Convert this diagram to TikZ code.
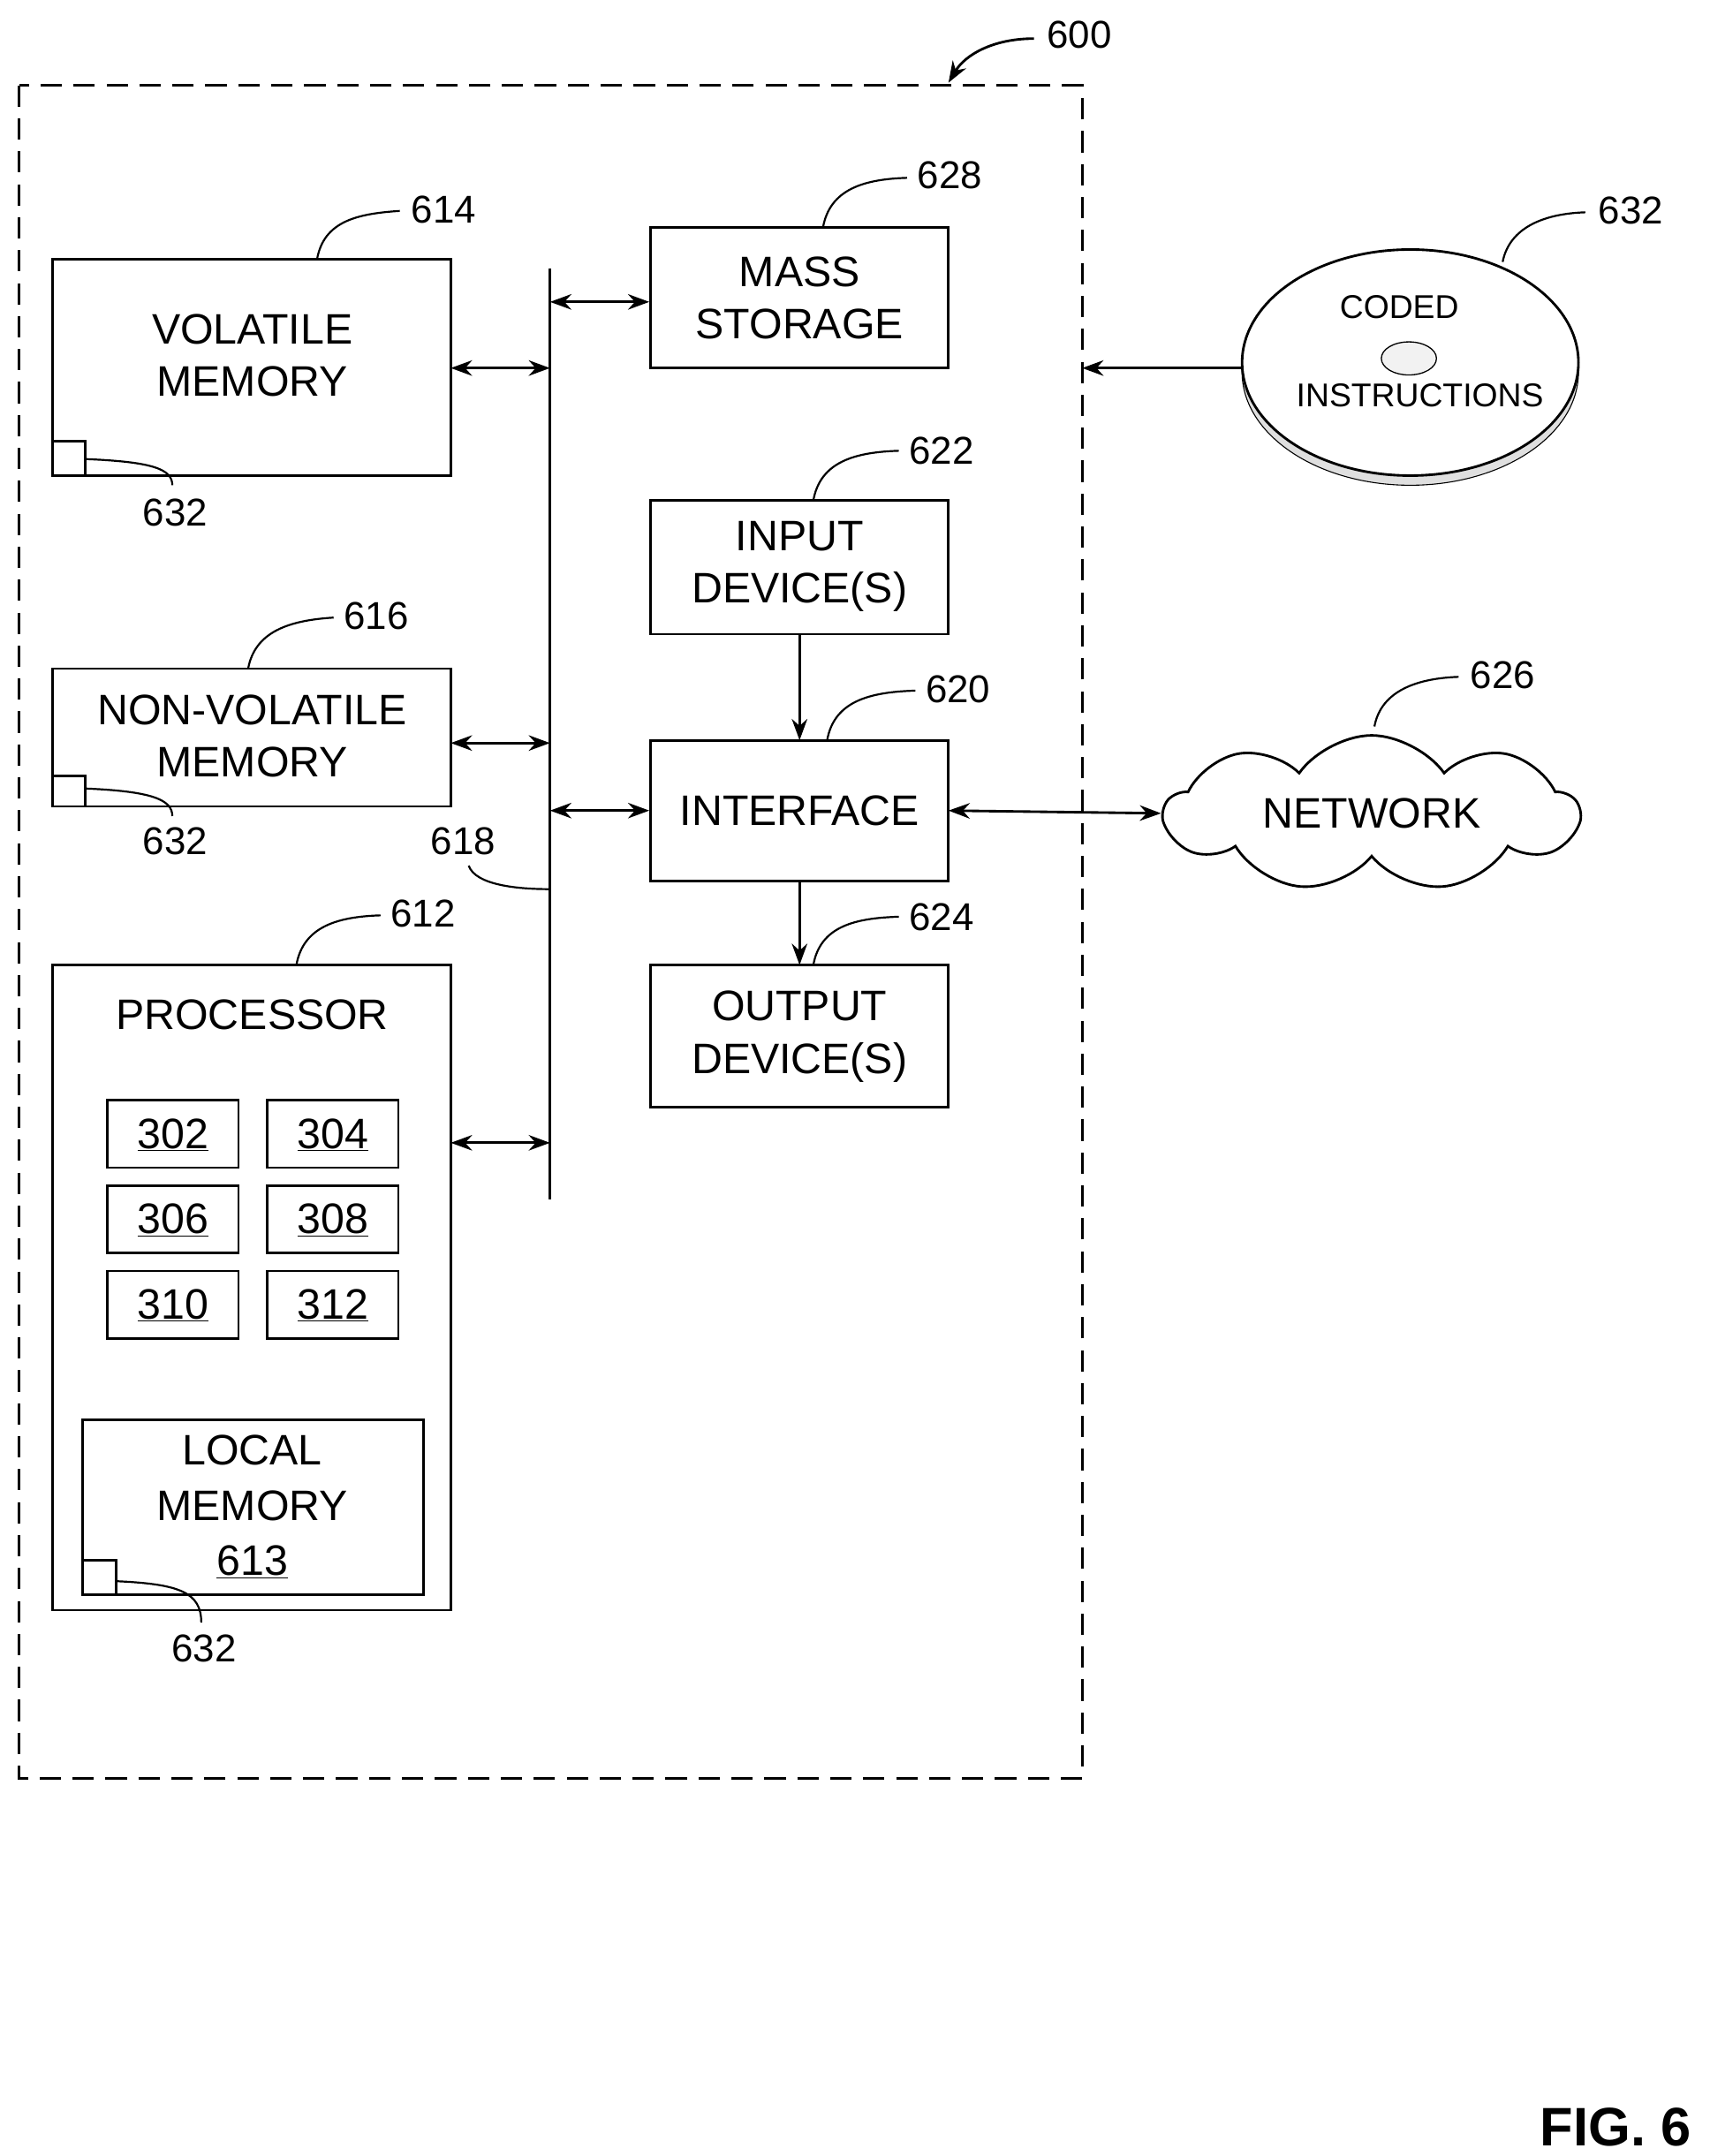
\documentclass[tikz,border=0pt]{standalone}
\usepackage{fontspec}
\setmainfont{Liberation Sans}
\usetikzlibrary{shapes.symbols,arrows.meta}
\begin{document}
\begin{tikzpicture}[x=0.05cm,y=-0.05cm,line width=2.6pt,
  txt/.style={font=\fontsize{44}{54}\selectfont,align=center},
  num/.style={font=\fontsize{40}{46}\selectfont},
  box/.style={draw,rectangle},
  dbl/.style={{Stealth[length=22pt,width=16pt]}-{Stealth[length=22pt,width=16pt]}},
  sgl/.style={-{Stealth[length=22pt,width=16pt]}},
  lead/.style={line width=2pt}]
\useasboundingbox (0,0) rectangle (1240,1564);
\draw[dash pattern=on 22pt off 12pt] (14,62) rectangle (785,1290);
\node[num] (n600) at (783,25) {600};
\draw[sgl] (750,28) .. controls (720,28) and (700,40) .. (688,60);
% volatile
\draw (38,188) rectangle (327,345);
\node[txt] (vol) at (183,258) {VOLATILE\\MEMORY};
\draw (38,320) rectangle (62,345);
\node[num] (l632a) at (127,372) {632};
\draw[lead] (62,333) .. controls (110,335) and (125,340) .. (125,352);
\node[num] (l614) at (322,152) {614};
\draw[lead] (230,188) .. controls (235,160) and (260,155) .. (290,153);
% nonvolatile
\draw (38,485) rectangle (327,585);
\node[txt] (nvol) at (183,534) {NON-VOLATILE\\MEMORY};
\draw (38,563) rectangle (62,585);
\node[num] (l632b) at (127,610) {632};
\draw[lead] (62,572) .. controls (110,574) and (125,580) .. (125,592);
\node[num] (l616) at (273,447) {616};
\draw[lead] (180,485) .. controls (185,458) and (210,450) .. (242,448);
% processor
\draw (38,700) rectangle (327,1168);
\node[txt] (proc) at (183,736) {PROCESSOR};
\foreach \lab/\x/\y in {302/78/798,304/194/798,306/78/860,308/194/860,310/78/922,312/194/922}{
  \draw (\x,\y) rectangle ++(95,49);
  \node[txt] (b\lab) at (\x+47.5,\y+25) {\underline{\lab}};
}
\draw (60,1030) rectangle (307,1157);
\node[txt,font=\fontsize{44}{57}\selectfont] (lm) at (183,1093) {LOCAL\\MEMORY\\\underline{613}};
\draw (60,1132) rectangle (84,1157);
\node[num] (l632c) at (148,1196) {632};
\draw[lead] (84,1147) .. controls (130,1149) and (146,1155) .. (146,1177);
\node[num] (l612) at (307,663) {612};
\draw[lead] (215,700) .. controls (220,672) and (245,665) .. (276,664);
% bus
\draw (399,195) -- (399,870);
\node[num] (l618) at (336,610) {618};
\draw[lead] (340,628) .. controls (345,642) and (375,645) .. (399,645);
\draw[dbl] (327,267) -- (399,267);
\draw[dbl] (327,539) -- (399,539);
\draw[dbl] (327,829) -- (399,829);
\draw[dbl] (399,219) -- (471,219);
\draw[dbl] (399,588) -- (471,588);
% right column
\draw (472,165) rectangle (688,267);
\node[txt] (ms) at (580,216) {MASS\\STORAGE};
\node[num] (l628) at (689,127) {628};
\draw[lead] (597,165) .. controls (602,137) and (627,130) .. (658,129);
\draw (472,363) rectangle (688,460);
\node[txt] (inp) at (580,411) {INPUT\\DEVICE(S)};
\node[num] (l622) at (683,327) {622};
\draw[lead] (590,363) .. controls (595,335) and (620,328) .. (652,327);
\draw (472,537) rectangle (688,639);
\node[txt] (intf) at (580,588) {INTERFACE};
\node[num] (l620) at (695,500) {620};
\draw[lead] (600,537) .. controls (605,509) and (630,502) .. (664,501);
\draw (472,700) rectangle (688,803);
\node[txt] (outd) at (580,752) {OUTPUT\\DEVICE(S)};
\node[num] (l624) at (683,665) {624};
\draw[lead] (590,700) .. controls (595,672) and (620,666) .. (652,665);
\draw[sgl] (580,460) -- (580,537);
\draw[sgl] (580,639) -- (580,700);
% network
\node[draw,cloud,cloud puffs=9,cloud puff arc=110,aspect=3,minimum width=15cm,minimum height=5.2cm,txt] (net) at (995,590) {NETWORK};
\node[num] (l626) at (1090,490) {626};
\draw[lead] (997,527) .. controls (1002,500) and (1030,492) .. (1058,491);
\draw[dbl] (688,588) -- (net.west);
% disc
\draw[line width=1pt,fill=gray!25] (1023,270) ellipse [x radius=122, y radius=82];
\draw[fill=white] (1023,263) ellipse [x radius=122, y radius=82];
\draw[line width=1.2pt,fill=gray!10] (1022,260) ellipse [x radius=20, y radius=12];
\node[font=\fontsize{34}{38}\selectfont] (cod) at (1015,223) {CODED};
\node[font=\fontsize{34}{38}\selectfont] (ins) at (1030,287) {INSTRUCTIONS};
\node[num] (l632d) at (1183,153) {632};
\draw[lead] (1090,190) .. controls (1095,165) and (1120,155) .. (1150,154);
\coordinate (dl) at (900,267);
\coordinate (bx) at (785,267);
\draw[sgl] (dl) -- (bx);
\node[font=\fontsize{56}{60}\selectfont\bfseries] (fig) at (1172,1543) {FIG. 6};
\end{tikzpicture}
\end{document}
